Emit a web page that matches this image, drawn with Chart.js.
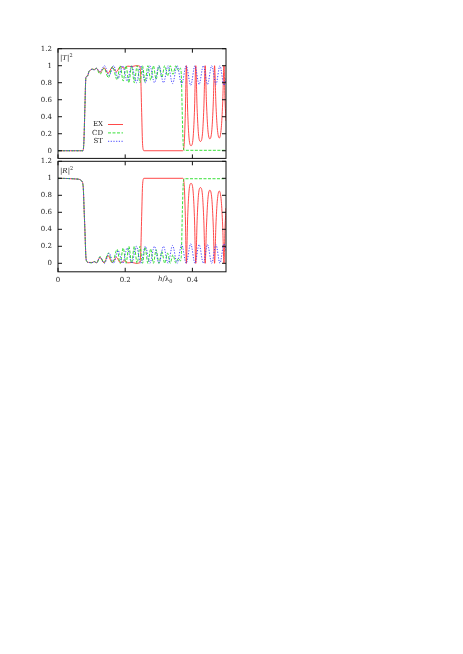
<!DOCTYPE html>
<html>
<head>
<meta charset="utf-8">
<script src="https://cdn.jsdelivr.net/npm/chart.js@4/dist/chart.umd.min.js"></script>
<style>
  body { margin: 0; background: #fff; width: 463px; height: 654px; position: relative; overflow: hidden; }
  canvas { position: absolute; left: 0; }
  .lbl { position: absolute; font-family: "DejaVu Serif", serif; font-size: 7px; color: #222; white-space: nowrap; line-height: 1; }
  .lbl sup, .lbl sub { font-size: 5px; }
</style>
</head>
<body>
<canvas id="chartT" width="463" height="170" style="top:0"></canvas>
<canvas id="chartR" width="463" height="190" style="top:120px"></canvas>
<div class="lbl" style="left:60px;top:53px">|<i>T</i>|<sup>2</sup></div>
<div class="lbl" style="left:60px;top:166px">|<i>R</i>|<sup>2</sup></div>
<div class="lbl" style="left:158px;top:276px"><i>h</i>/λ<sub>0</sub></div>
<script>
const seriesNames = ["EX", "CD", "ST"];
const xTicks = [0, 0.2, 0.4];
const xTickLabels = ["0", "0.2", "0.4"];
const yTicks = [0, 0.2, 0.4, 0.6, 0.8, 1, 1.2];
const yTickLabels = ["0", "0.2", "0.4", "0.6", "0.8", "1", "1.2"];

// |T|^2 [h/lambda0, value]
const tEX = [[0,0],[0.074,0],[0.077,0.1],[0.08,0.5],[0.083,0.86],[0.088,0.88],[0.092,0.93],[0.097,0.95],
  [0.102,0.96],[0.108,0.955],[0.114,0.97],[0.125,0.92],[0.137,0.975],[0.149,0.91],[0.161,0.98],[0.174,0.93],
  [0.186,0.99],[0.197,0.97],[0.208,0.995],[0.22,0.99],[0.232,1],[0.243,0.995],[0.246,0.9],[0.249,0.45],
  [0.252,0.06],[0.256,0],[0.371,0],[0.375,0.05],[0.379,0.45],[0.382,1],[0.386,0.45],[0.39,0.15],[0.396,0.06],
  [0.402,0.15],[0.406,0.45],[0.41,1],[0.414,0.5],[0.418,0.2],[0.424,0.11],[0.43,0.2],[0.434,0.5],[0.438,1],
  [0.442,0.55],[0.446,0.25],[0.452,0.14],[0.458,0.25],[0.462,0.55],[0.466,1],[0.47,0.55],[0.474,0.27],
  [0.48,0.15],[0.486,0.27],[0.49,0.55],[0.494,1],[0.497,0.6],[0.5,0.35]];
const tCD = [[0,0],[0.074,0],[0.077,0.1],[0.08,0.5],[0.083,0.86],[0.088,0.88],[0.092,0.93],[0.097,0.95],
  [0.102,0.96],[0.108,0.95],[0.114,0.97],[0.125,0.9],[0.137,0.97],[0.15,0.86],[0.162,0.99],[0.176,0.835],
  [0.185,1],[0.194,0.82],[0.2025,1],[0.211,0.8],[0.219,1],[0.227,0.8],[0.2355,1],[0.244,0.8],[0.2515,1],
  [0.259,0.81],[0.2675,1],[0.276,0.83],[0.284,1],[0.292,0.84],[0.3005,1],[0.309,0.86],[0.3175,1],[0.326,0.88],
  [0.334,1],[0.342,0.9],[0.3505,1],[0.359,0.94],[0.364,0.97],[0.367,0.9],[0.37,0.4],[0.373,0.05],
  [0.376,0.005],[0.5,0.005]];
const tST = [[0,0],[0.074,0],[0.077,0.1],[0.08,0.5],[0.083,0.86],[0.088,0.88],[0.092,0.93],[0.097,0.95],
  [0.102,0.96],[0.108,0.95],[0.114,0.97],[0.125,0.93],[0.1385,1],[0.152,0.88],[0.1655,1],[0.179,0.85],
  [0.1925,1],[0.206,0.82],[0.2195,1],[0.233,0.8],[0.2465,1],[0.26,0.8],[0.2735,1],[0.287,0.8],[0.3005,1],
  [0.314,0.8],[0.3275,1],[0.341,0.79],[0.3545,1],[0.368,0.78],[0.3815,1],[0.395,0.77],[0.4075,1],[0.42,0.78],
  [0.4325,1],[0.445,0.78],[0.4575,1],[0.47,0.78],[0.482,1],[0.494,0.77],[0.5,0.85]];

// |R|^2
const rEX = [[0,1],[0.06,0.99],[0.07,0.97],[0.075,0.9],[0.078,0.6],[0.08,0.4],[0.083,0.08],[0.086,0.02],
  [0.092,0.01],[0.102,0.01],[0.108,0.02],[0.114,0.005],[0.125,0.07],[0.137,0.005],[0.149,0.09],[0.161,0.01],
  [0.174,0.07],[0.186,0.005],[0.197,0.03],[0.208,0.005],[0.22,0.01],[0.232,0],[0.243,0.005],[0.246,0.1],
  [0.249,0.55],[0.252,0.94],[0.256,1],[0.371,1],[0.375,0.95],[0.379,0.55],[0.382,0],[0.386,0.55],[0.39,0.85],
  [0.396,0.94],[0.402,0.85],[0.406,0.55],[0.41,0],[0.414,0.5],[0.418,0.8],[0.424,0.89],[0.43,0.8],[0.434,0.5],
  [0.438,0],[0.442,0.45],[0.446,0.75],[0.452,0.86],[0.458,0.75],[0.462,0.45],[0.466,0],[0.47,0.45],
  [0.474,0.73],[0.48,0.85],[0.486,0.73],[0.49,0.45],[0.494,0],[0.497,0.4],[0.5,0.65]];
const rCD = [[0,1],[0.06,0.99],[0.07,0.97],[0.075,0.9],[0.078,0.6],[0.08,0.4],[0.083,0.08],[0.086,0.02],
  [0.092,0.01],[0.1,0.005],[0.108,0.02],[0.116,0.005],[0.125,0.08],[0.137,0.01],[0.15,0.12],[0.162,0.005],
  [0.176,0.165],[0.185,0],[0.194,0.18],[0.2025,0],[0.211,0.2],[0.219,0],[0.227,0.2],[0.2355,0],[0.244,0.2],
  [0.2515,0],[0.259,0.19],[0.2675,0],[0.276,0.17],[0.284,0],[0.292,0.16],[0.3005,0],[0.309,0.14],[0.3175,0],
  [0.326,0.12],[0.334,0],[0.342,0.1],[0.3505,0.005],[0.359,0.06],[0.364,0.03],[0.367,0.08],[0.37,0.6],
  [0.373,0.95],[0.376,0.995],[0.5,0.995]];
const rST = [[0,1],[0.06,0.99],[0.07,0.97],[0.075,0.9],[0.078,0.6],[0.08,0.4],[0.083,0.08],[0.086,0.02],
  [0.092,0.01],[0.1,0.005],[0.108,0.02],[0.114,0.005],[0.125,0.07],[0.1385,0],[0.152,0.12],[0.1655,0],
  [0.179,0.15],[0.1925,0],[0.206,0.18],[0.2195,0],[0.233,0.2],[0.2465,0],[0.26,0.2],[0.2735,0],[0.287,0.2],
  [0.3005,0],[0.314,0.2],[0.3275,0],[0.341,0.21],[0.3545,0],[0.368,0.22],[0.3815,0],[0.395,0.23],[0.4075,0],
  [0.42,0.22],[0.4325,0],[0.445,0.22],[0.4575,0],[0.47,0.22],[0.482,0],[0.494,0.23],[0.5,0.15]];

const pts = a => a.map(([x, y]) => ({x: x, y: y}));
const tickFont = {family: "DejaVu Serif", size: 7};

function lineSet(label, data, color, dash, order) {
  return {
    label: label,
    data: pts(data),
    borderColor: color,
    borderWidth: 0.9,
    borderDash: dash,
    order: order,
    pointRadius: 0,
    fill: false,
    cubicInterpolationMode: "monotone"
  };
}

// frame round the plot with inward ticks on all four sides
const framePlugin = {
  id: "frame",
  afterDatasetsDraw(chart) {
    const ctx = chart.ctx, a = chart.chartArea, x = chart.scales.x, y = chart.scales.y;
    ctx.save();
    ctx.strokeStyle = "#111";
    ctx.lineWidth = 1;
    ctx.setLineDash([]);
    ctx.strokeRect(a.left, a.top, a.right - a.left, a.bottom - a.top);
    ctx.beginPath();
    x.ticks.forEach(t => {
      const px = x.getPixelForValue(t.value);
      ctx.moveTo(px, a.top); ctx.lineTo(px, a.top + 4);
      ctx.moveTo(px, a.bottom); ctx.lineTo(px, a.bottom - 4);
    });
    y.ticks.forEach(t => {
      const py = y.getPixelForValue(t.value);
      ctx.moveTo(a.left, py); ctx.lineTo(a.left + 4, py);
      ctx.moveTo(a.right, py); ctx.lineTo(a.right - 4, py);
    });
    ctx.stroke();
    ctx.restore();
  }
};

const keyPlugin = {
  id: "key",
  afterDatasetsDraw(chart, args, opts) {
    if (!opts.show) return;
    const ctx = chart.ctx;
    ctx.save();
    chart.data.datasets.forEach((ds, i) => {
      const yy = opts.top + i * opts.gap;
      ctx.fillStyle = "#222";
      ctx.font = '7px "DejaVu Serif"';
      ctx.textAlign = "right";
      ctx.textBaseline = "middle";
      ctx.fillText(ds.label, opts.textX, yy);
      ctx.strokeStyle = ds.borderColor;
      ctx.lineWidth = ds.borderWidth;
      ctx.setLineDash(ds.borderDash || []);
      ctx.beginPath();
      ctx.moveTo(opts.lineX, yy);
      ctx.lineTo(opts.lineX + opts.lineW, yy);
      ctx.stroke();
    });
    ctx.restore();
  }
};

function makePanel(id, sets, yMin, pad, showX, showKey) {
  return new Chart(id, {
    type: "line",
    data: {
      datasets: [
        lineSet(seriesNames[0], sets[0], "#ff3636", [], 3),
        lineSet(seriesNames[1], sets[1], "#22dd22", [3, 1.5], 2),
        lineSet(seriesNames[2], sets[2], "#3333ff", [1.2, 1.5], 1)
      ]
    },
    options: {
      responsive: false,
      animation: false,
      layout: {padding: pad},
      plugins: {
        legend: {display: false},
        tooltip: {enabled: false},
        key: {show: showKey, textX: 103, lineX: 108, lineW: 15, top: 124.5, gap: 8.4}
      },
      scales: {
        x: {
          type: "linear", min: 0, max: 0.5,
          afterBuildTicks: s => { s.ticks = xTicks.map(v => ({value: v})); },
          afterFit: s => { s.height = showX ? 14 : 0; },
          grid: {display: false, drawTicks: false},
          border: {display: false},
          ticks: {display: showX, padding: 4, color: "#222", font: tickFont, maxRotation: 0,
                  callback: (v, i) => xTickLabels[i]}
        },
        y: {
          type: "linear", min: yMin, max: 1.2,
          afterBuildTicks: s => { s.ticks = yTicks.map(v => ({value: v})); },
          afterFit: s => { s.width = 58; },
          grid: {display: false, drawTicks: false},
          border: {display: false},
          ticks: {padding: 6, color: "#222", font: tickFont, callback: (v, i) => yTickLabels[i]}
        }
      }
    },
    plugins: [framePlugin, keyPlugin]
  });
}

makePanel("chartT", [tEX, tCD, tST], -0.09, {left: 0, right: 237, top: 48.7, bottom: 11.6}, false, true);
makePanel("chartR", [rEX, rCD, rST], -0.1, {left: 0, right: 237, top: 41.3, bottom: 24.2}, true, false);
</script>
</body>
</html>
